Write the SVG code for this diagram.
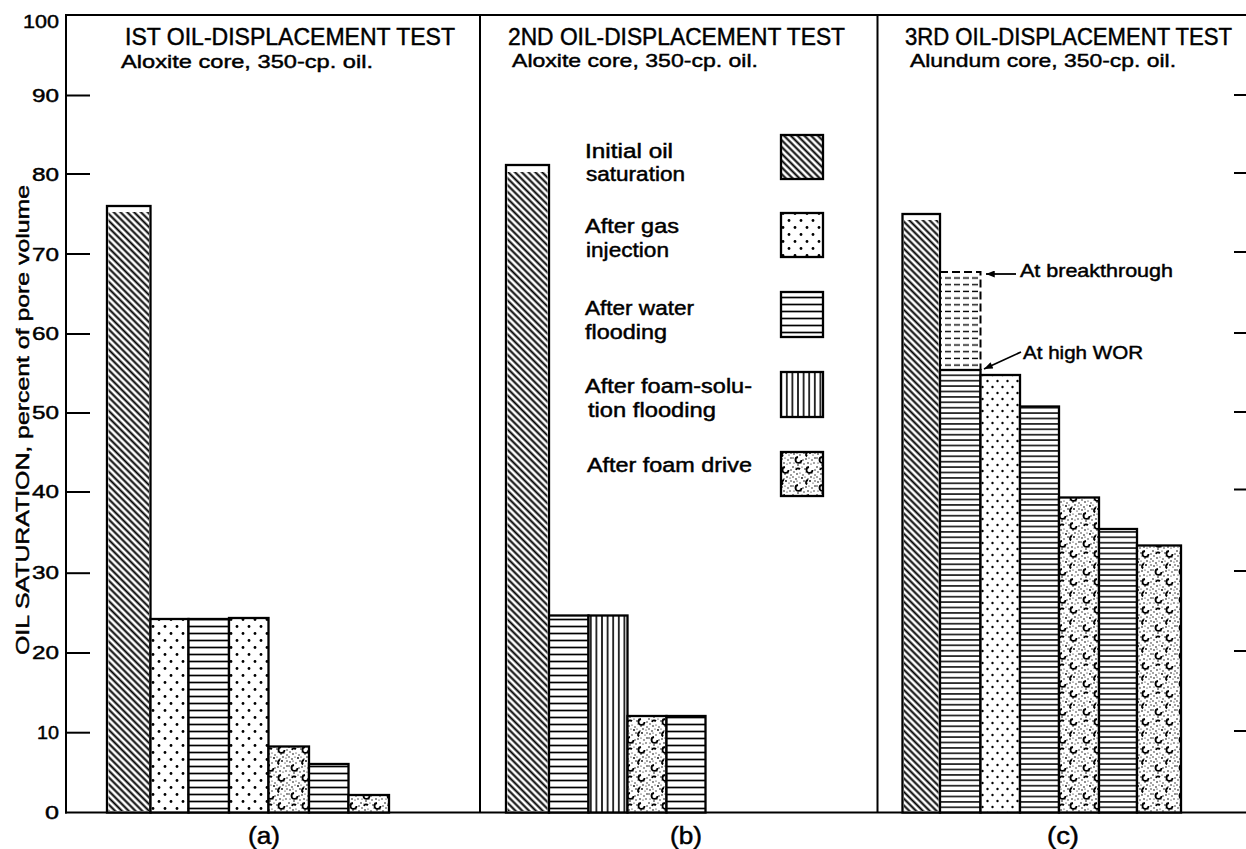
<svg xmlns="http://www.w3.org/2000/svg" width="1246" height="849" viewBox="0 0 1246 849">
<style>
text{font-family:"Liberation Sans",Arial,sans-serif;fill:#000;stroke:#000;stroke-width:0.45}
.tl{font-size:18.5px}
.ttl{font-size:23px}
.sub{font-size:19px}
.lg{font-size:19.5px}
.ann{font-size:18.5px}
.ax{stroke:#000;stroke-width:2;fill:none}
.bar{stroke:#000;stroke-width:2.3}
.lbox{stroke:#000;stroke-width:2.3}
</style>
<defs>
<pattern id="diag" patternUnits="userSpaceOnUse" width="4.8" height="4.8" patternTransform="rotate(45)">
<rect width="4.8" height="4.8" fill="#fff"/>
<line x1="0" y1="2.4" x2="4.8" y2="2.4" stroke="#000" stroke-width="2"/>
</pattern>
<pattern id="dots" patternUnits="userSpaceOnUse" width="12" height="14">
<rect width="12" height="14" fill="#fff"/>
<circle cx="3" cy="3.5" r="1.4" fill="#000"/>
<circle cx="9" cy="10.5" r="1.4" fill="#000"/>
</pattern>
<pattern id="dotsC" patternUnits="userSpaceOnUse" width="10" height="12">
<rect width="10" height="12" fill="#fff"/>
<circle cx="2.5" cy="3" r="1.2" fill="#000"/>
<circle cx="7.5" cy="9" r="1.2" fill="#000"/>
</pattern>
<pattern id="hl" patternUnits="userSpaceOnUse" width="8" height="7">
<rect width="8" height="7" fill="#fff"/>
<line x1="0" y1="3.5" x2="8" y2="3.5" stroke="#000" stroke-width="1.7"/>
</pattern>
<pattern id="hlC" patternUnits="userSpaceOnUse" width="8" height="5.4">
<rect width="8" height="5.4" fill="#fff"/>
<line x1="0" y1="2.7" x2="8" y2="2.7" stroke="#000" stroke-width="1.5"/>
</pattern>
<pattern id="vl" patternUnits="userSpaceOnUse" width="5.6" height="8">
<rect width="5.6" height="8" fill="#fff"/>
<line x1="2.8" y1="0" x2="2.8" y2="8" stroke="#000" stroke-width="1.6"/>
</pattern>
<pattern id="dashl" patternUnits="userSpaceOnUse" width="9" height="6.7">
<rect width="9" height="6.7" fill="#fff"/>
<line x1="0" y1="3.3" x2="6" y2="3.3" stroke="#000" stroke-width="1.4"/>
</pattern>
<pattern id="foam" patternUnits="userSpaceOnUse" width="24" height="28">
<rect width="24" height="28" fill="#fff"/>
<g fill="#000">
<circle cx="1" cy="1" r=".7"/><circle cx="4" cy="3" r=".8"/><circle cx="7" cy="1" r=".6"/><circle cx="10" cy="2" r=".9"/><circle cx="13" cy="1" r=".6"/><circle cx="16" cy="3" r=".7"/><circle cx="19" cy="1" r=".8"/><circle cx="22" cy="2" r=".6"/>
<circle cx="2" cy="6" r=".8"/><circle cx="5" cy="5" r=".6"/><circle cx="8" cy="7" r=".7"/><circle cx="12" cy="5" r=".8"/><circle cx="15" cy="7" r=".6"/><circle cx="18" cy="5" r=".9"/><circle cx="21" cy="7" r=".6"/><circle cx="23" cy="5" r=".7"/>
<circle cx="1" cy="10" r=".7"/><circle cx="4" cy="12" r=".6"/><circle cx="11" cy="12" r=".7"/><circle cx="14" cy="11" r=".8"/><circle cx="17" cy="10" r=".6"/><circle cx="20" cy="12" r=".7"/><circle cx="23" cy="10" r=".8"/>
<circle cx="2" cy="15" r=".6"/><circle cx="6" cy="17" r=".8"/><circle cx="9" cy="15" r=".6"/><circle cx="12" cy="16" r=".7"/><circle cx="16" cy="15" r=".8"/><circle cx="19" cy="16" r=".6"/><circle cx="22" cy="15" r=".7"/>
<circle cx="1" cy="19" r=".8"/><circle cx="4" cy="20" r=".6"/><circle cx="7" cy="21" r=".7"/><circle cx="10" cy="19" r=".6"/><circle cx="13" cy="21" r=".8"/><circle cx="15" cy="19" r=".6"/><circle cx="23" cy="22" r=".7"/>
<circle cx="2" cy="24" r=".7"/><circle cx="5" cy="26" r=".8"/><circle cx="8" cy="25" r=".6"/><circle cx="11" cy="27" r=".7"/><circle cx="14" cy="24" r=".6"/><circle cx="17" cy="26" r=".8"/><circle cx="20" cy="25" r=".6"/><circle cx="23" cy="27" r=".7"/>
</g>
<g fill="none" stroke="#000" stroke-width="1.8">
<path d="M6,9 a3,3 0 1 0 3.5,3"/>
<path d="M17,19 a3,3 0 1 0 3.5,3"/>
<path d="M16,4 a2.5,2.5 0 0 0 -1,4.5"/>
<path d="M4,22 a2.5,2.5 0 0 1 4,-1"/>
</g>
</pattern>
<marker id="ah" viewBox="0 0 10 8" refX="10" refY="4" markerWidth="11" markerHeight="7" orient="auto" markerUnits="userSpaceOnUse">
<path d="M0,0 L10,4 L0,8 z" fill="#000"/>
</marker>
</defs>
<rect width="1246" height="849" fill="#fff"/>

<g id="axes">
<line class="ax" x1="65" y1="15" x2="1246" y2="15"/>
<line class="ax" x1="66" y1="14" x2="66" y2="813.5"/>
<line class="ax" x1="65" y1="812.5" x2="1246" y2="812.5"/>
<line class="ax" x1="480" y1="15" x2="480" y2="812.5"/>
<line class="ax" x1="877.5" y1="15" x2="877.5" y2="812.5"/>
<g class="ax">
<line x1="66" y1="732.7" x2="90" y2="732.7"/>
<line x1="66" y1="653" x2="90" y2="653"/>
<line x1="66" y1="573.2" x2="90" y2="573.2"/>
<line x1="66" y1="492" x2="90" y2="492"/>
<line x1="66" y1="413" x2="90" y2="413"/>
<line x1="66" y1="334" x2="90" y2="334"/>
<line x1="66" y1="254" x2="90" y2="254"/>
<line x1="66" y1="174" x2="90" y2="174"/>
<line x1="66" y1="95.5" x2="90" y2="95.5"/>
<line x1="1234" y1="731" x2="1246" y2="731"/>
<line x1="1234" y1="651" x2="1246" y2="651"/>
<line x1="1234" y1="571" x2="1246" y2="571"/>
<line x1="1234" y1="489.5" x2="1246" y2="489.5"/>
<line x1="1234" y1="412" x2="1246" y2="412"/>
<line x1="1234" y1="333" x2="1246" y2="333"/>
<line x1="1234" y1="252" x2="1246" y2="252"/>
<line x1="1234" y1="173" x2="1246" y2="173"/>
<line x1="1234" y1="95" x2="1246" y2="95"/>
</g>
<g class="tl" text-anchor="end">
<text x="59" y="28" textLength="36" lengthAdjust="spacingAndGlyphs">100</text>
<text x="59" y="102" textLength="27" lengthAdjust="spacingAndGlyphs">90</text>
<text x="59" y="181" textLength="27" lengthAdjust="spacingAndGlyphs">80</text>
<text x="59" y="260.5" textLength="27" lengthAdjust="spacingAndGlyphs">70</text>
<text x="59" y="340" textLength="27" lengthAdjust="spacingAndGlyphs">60</text>
<text x="59" y="419" textLength="27" lengthAdjust="spacingAndGlyphs">50</text>
<text x="59" y="498" textLength="27" lengthAdjust="spacingAndGlyphs">40</text>
<text x="59" y="579" textLength="27" lengthAdjust="spacingAndGlyphs">30</text>
<text x="59" y="659" textLength="27" lengthAdjust="spacingAndGlyphs">20</text>
<text x="59" y="739" textLength="22" lengthAdjust="spacingAndGlyphs">10</text>
<text x="59" y="818.5" textLength="14" lengthAdjust="spacingAndGlyphs">0</text>
</g>
<text class="sub" transform="translate(29,420) rotate(-90)" text-anchor="middle" textLength="470" lengthAdjust="spacingAndGlyphs">OIL SATURATION, percent of pore volume</text>
</g>

<g id="titles">
<text class="ttl" x="125" y="45" textLength="330" lengthAdjust="spacingAndGlyphs">IST OIL-DISPLACEMENT  TEST</text>
<text class="sub" x="121" y="68" textLength="252" lengthAdjust="spacingAndGlyphs">Aloxite core, 350-cp. oil.</text>
<text class="ttl" x="508" y="45" textLength="337" lengthAdjust="spacingAndGlyphs">2ND OIL-DISPLACEMENT TEST</text>
<text class="sub" x="512" y="67" textLength="246" lengthAdjust="spacingAndGlyphs">Aloxite core, 350-cp. oil.</text>
<text class="ttl" x="905" y="45" textLength="327" lengthAdjust="spacingAndGlyphs">3RD OIL-DISPLACEMENT  TEST</text>
<text class="sub" x="910" y="67" textLength="266" lengthAdjust="spacingAndGlyphs">Alundum core, 350-cp. oil.</text>
</g>

<g id="panel-a">
<g id="a1"><rect x="107" y="206" width="43.5" height="606.5" fill="#fff" class="bar"/><rect x="108.5" y="212" width="40.5" height="599" fill="url(#diag)"/></g>
<rect id="a2" class="bar" x="150.5" y="619" width="38" height="193.5" fill="url(#dots)"/>
<rect id="a3" class="bar" x="188.5" y="619" width="40.5" height="193.5" fill="url(#hl)"/>
<rect id="a4" class="bar" x="229" y="618" width="39.5" height="194.5" fill="url(#dots)"/>
<rect id="a5" class="bar" x="268.5" y="746.5" width="40.5" height="66" fill="url(#foam)"/>
<rect id="a6" class="bar" x="309" y="764" width="39.5" height="48.5" fill="url(#hl)"/>
<rect id="a7" class="bar" x="348.5" y="795" width="40.5" height="17.5" fill="url(#foam)"/>
<text class="ttl" x="264" y="844" text-anchor="middle" textLength="32" lengthAdjust="spacingAndGlyphs">(a)</text>
</g>

<g id="panel-b">
<g id="b1"><rect x="506" y="165" width="43" height="647.5" fill="#fff" class="bar"/><rect x="507.5" y="172" width="40" height="639" fill="url(#diag)"/></g>
<rect id="b2" class="bar" x="549" y="615.5" width="39.5" height="197" fill="url(#hl)"/>
<rect id="b3" class="bar" x="588.5" y="615.5" width="39" height="197" fill="url(#vl)"/>
<rect id="b4" class="bar" x="627.5" y="716" width="39" height="96.5" fill="url(#foam)"/>
<rect id="b5" class="bar" x="666.5" y="716" width="39" height="96.5" fill="url(#hl)"/>
<text class="ttl" x="686" y="844" text-anchor="middle" textLength="32" lengthAdjust="spacingAndGlyphs">(b)</text>
</g>

<g id="legend">
<g id="lg1"><text class="lg" x="585" y="158" textLength="88" lengthAdjust="spacingAndGlyphs">Initial oil</text><text class="lg" x="586" y="181" textLength="99" lengthAdjust="spacingAndGlyphs">saturation</text><rect class="lbox" x="781" y="135" width="42" height="44" fill="url(#diag)"/></g>
<g id="lg2"><text class="lg" x="585" y="233" textLength="94" lengthAdjust="spacingAndGlyphs">After gas</text><text class="lg" x="586" y="257" textLength="83" lengthAdjust="spacingAndGlyphs">injection</text><rect class="lbox" x="781" y="213" width="42" height="44" fill="url(#dots)"/></g>
<g id="lg3"><text class="lg" x="585" y="315" textLength="109" lengthAdjust="spacingAndGlyphs">After water</text><text class="lg" x="585" y="339" textLength="82" lengthAdjust="spacingAndGlyphs">flooding</text><rect class="lbox" x="781" y="292" width="42" height="45" fill="url(#hl)"/></g>
<g id="lg4"><text class="lg" x="585" y="393" textLength="167" lengthAdjust="spacingAndGlyphs">After foam-solu-</text><text class="lg" x="588" y="417" textLength="128" lengthAdjust="spacingAndGlyphs">tion flooding</text><rect class="lbox" x="781" y="372" width="42" height="45" fill="url(#vl)"/></g>
<g id="lg5"><text class="lg" x="587" y="472" textLength="165" lengthAdjust="spacingAndGlyphs">After foam drive</text><rect class="lbox" x="781" y="452" width="42" height="44" fill="url(#foam)"/></g>
</g>

<g id="panel-c">
<g id="c1"><rect x="902.5" y="214" width="37.5" height="598.5" fill="#fff" class="bar"/><rect x="904" y="220" width="34.5" height="591" fill="url(#diag)"/></g>
<g id="c2-breakthrough">
<rect x="941" y="273" width="38.5" height="97" fill="url(#dashl)"/>
<path d="M940,272 H980.5 V370" fill="none" stroke="#000" stroke-width="2" stroke-dasharray="8,4"/>
</g>
<rect id="c2" class="bar" x="940" y="370" width="40.5" height="442.5" fill="url(#hlC)"/>
<rect id="c3" class="bar" x="980.5" y="375" width="39.5" height="437.5" fill="url(#dotsC)"/>
<rect id="c4" class="bar" x="1020" y="406.5" width="39" height="406" fill="url(#hlC)"/>
<rect id="c5" class="bar" x="1059" y="497.5" width="40" height="315" fill="url(#foam)"/>
<rect id="c6" class="bar" x="1099" y="529" width="38" height="283.5" fill="url(#hlC)"/>
<rect id="c7" class="bar" x="1137" y="545.5" width="44" height="267" fill="url(#foam)"/>
<text class="ann" x="1020" y="277" textLength="153" lengthAdjust="spacingAndGlyphs">At breakthrough</text>
<text class="ann" x="1023" y="359" textLength="120" lengthAdjust="spacingAndGlyphs">At high WOR</text>
<text class="ttl" x="1063" y="844" text-anchor="middle" textLength="32" lengthAdjust="spacingAndGlyphs">(c)</text>
</g>

<g id="connectors">
<line x1="1016" y1="274" x2="986" y2="274" stroke="#000" stroke-width="1.8" marker-end="url(#ah)"/>
<line x1="1021" y1="352" x2="984" y2="369" stroke="#000" stroke-width="1.8" marker-end="url(#ah)"/>
</g>
</svg>
